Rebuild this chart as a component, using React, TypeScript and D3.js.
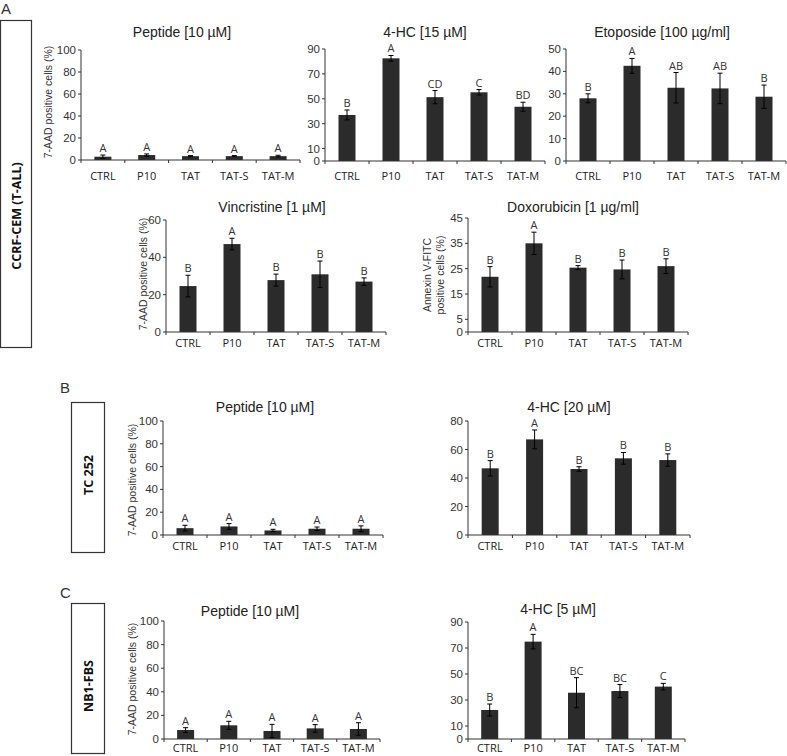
import React from "react";
import * as d3 from "d3";

const categories = ["CTRL", "P10", "TAT", "TAT-S", "TAT-M"];

// Panel A – CCRF-CEM (T-ALL)
const aPeptideMeans = [3, 4.5, 3.5, 3.5, 3.5];
const aPeptideErr = [1.5, 1, 0.5, 0.5, 0.8];
const aPeptideLetters = ["A", "A", "A", "A", "A"];
const aPeptideTicks = [0, 20, 40, 60, 80, 100];

const a4hcMeans = [37, 82.5, 51.3, 55.2, 43.6];
const a4hcErr = [4, 2.3, 5.3, 2.2, 3.6];
const a4hcLetters = ["B", "A", "CD", "C", "BD"];
const a4hcTicks = [0, 10, 30, 50, 70, 90];

const aEtoMeans = [28, 42.5, 32.7, 32.4, 28.7];
const aEtoErr = [2, 3.3, 6.8, 6.8, 5.2];
const aEtoLetters = ["B", "A", "AB", "AB", "B"];
const aEtoTicks = [0, 10, 20, 30, 40, 50];

const aVincMeans = [24.6, 47.1, 27.8, 30.9, 27];
const aVincErr = [5.8, 3.1, 3.2, 7.1, 2];
const aVincLetters = ["B", "A", "B", "B", "B"];
const aVincTicks = [0, 20, 40, 60];

const aDoxoMeans = [21.8, 35, 25.4, 24.7, 26];
const aDoxoErr = [4, 4.4, 0.8, 3.7, 2.9];
const aDoxoLetters = ["B", "A", "B", "B", "B"];
const aDoxoTicks = [0, 5, 15, 25, 35, 45];

// Panel B – TC 252
const bPeptideMeans = [6, 7.5, 4, 5.5, 5.5];
const bPeptideErr = [2.5, 2.5, 1, 1.5, 2.5];
const bPeptideLetters = ["A", "A", "A", "A", "A"];
const bPeptideTicks = [0, 20, 40, 60, 80, 100];

const b4hcMeans = [46.8, 67.1, 46.3, 53.8, 52.6];
const b4hcErr = [5.4, 6.6, 1.6, 4.1, 4.3];
const b4hcLetters = ["B", "A", "B", "B", "B"];
const b4hcTicks = [0, 20, 40, 60, 80];

// Panel C – NB1-FBS
const cPeptideMeans = [7.6, 11.6, 6.8, 9, 8.5];
const cPeptideErr = [2, 3.4, 5.6, 3.2, 5.3];
const cPeptideLetters = ["A", "A", "A", "A", "A"];
const cPeptideTicks = [0, 20, 40, 60, 80, 100];

const c4hcMeans = [22.3, 74.9, 35.6, 36.9, 40.3];
const c4hcErr = [4.6, 5.6, 11.6, 5, 2.5];
const c4hcLetters = ["B", "A", "BC", "BC", "C"];
const c4hcTicks = [0, 10, 30, 50, 70, 90];

const ARIAL = "'Liberation Sans', Arial, sans-serif";
const CAL = "'Open Sans', Lato, sans-serif";
const BAR = "#2b2b2b";

type PanelProps = {
  title: string;
  means: number[];
  errs: number[];
  letters: string[];
  ticks: number[];
  axisX: number;
  xEnd: number;
  yTop: number;
  yBottom: number;
  titleX: number;
  titleY: number;
  catY: number;
  yLabel?: string[];
  yLabelX?: number;
  yLabelY?: number;
};

function Panel(p: PanelProps) {
  const yMax = p.ticks[p.ticks.length - 1];
  const x = d3.scaleBand<string>().domain(categories).range([p.axisX, p.xEnd]);
  const y = d3.scaleLinear().domain([0, yMax]).range([p.yBottom, p.yTop]);
  const bw = 17;
  const bounds = categories.map((c) => x(c)!).concat([p.xEnd]);
  return (
    <g>
      <text x={p.titleX} y={p.titleY} textAnchor="middle" fontFamily={ARIAL} fontSize={14} fill="#222">
        {p.title}
      </text>
      {p.yLabel && (
        <text
          transform={`translate(${p.yLabelX},${p.yLabelY}) rotate(-90)`}
          textAnchor="middle"
          fontFamily={ARIAL}
          fontSize={10.5}
          fill="#333"
        >
          {p.yLabel.map((l, i) => (
            <tspan key={i} x={0} dy={i === 0 ? (p.yLabel!.length > 1 ? -2 : 3.5) : 12.5}>
              {l}
            </tspan>
          ))}
        </text>
      )}
      {categories.map((c, i) => {
        const cx = x(c)! + x.bandwidth() / 2;
        const top = y(p.means[i]);
        const eTop = y(p.means[i] + p.errs[i]);
        const eBot = y(Math.max(0, p.means[i] - p.errs[i]));
        return (
          <g key={c}>
            <rect x={cx - bw / 2} y={top} width={bw} height={p.yBottom - top} fill={BAR} />
            <line x1={cx} x2={cx} y1={eTop} y2={eBot} stroke="#000" strokeWidth={1} />
            <line x1={cx - 2.5} x2={cx + 2.5} y1={eTop} y2={eTop} stroke="#000" strokeWidth={1} />
            <line x1={cx - 2.5} x2={cx + 2.5} y1={eBot} y2={eBot} stroke="#000" strokeWidth={1} />
            <text x={cx} y={eTop - 3} textAnchor="middle" fontFamily={CAL} fontSize={11} fill="#333">
              {p.letters[i]}
            </text>
            <text x={cx} y={p.catY} textAnchor="middle" fontFamily={CAL} fontSize={11} fill="#222">
              {c}
            </text>
          </g>
        );
      })}
      <line x1={p.axisX} x2={p.axisX} y1={p.yTop} y2={p.yBottom} stroke="#333" strokeWidth={1} />
      <line x1={p.axisX} x2={p.xEnd} y1={p.yBottom} y2={p.yBottom} stroke="#333" strokeWidth={1} />
      {p.ticks.map((t) => (
        <g key={t}>
          <line x1={p.axisX - 3} x2={p.axisX} y1={y(t)} y2={y(t)} stroke="#333" />
          <text x={p.axisX - 5} y={y(t) + 4} textAnchor="end" fontFamily={ARIAL} fontSize={11.5} fill="#333">
            {t}
          </text>
        </g>
      ))}
      {bounds.map((b, i) => (
        <line key={i} x1={b} x2={b} y1={p.yBottom} y2={p.yBottom + 3} stroke="#333" />
      ))}
    </g>
  );
}

const YL = ["7-AAD positive cells (%)"];

export default function App() {
  return (
    <svg
      width={787}
      height={756}
      style={{ position: "absolute", left: 0, top: 0, background: "#fff" }}
    >
      <rect width={787} height={756} fill="#fff" />
      {/* Section letters */}
      <text x={1} y={14} fontFamily={ARIAL} fontSize={15} fill="#333">A</text>
      <text x={60} y={393} fontFamily={ARIAL} fontSize={15} fill="#333">B</text>
      <text x={60} y={598} fontFamily={ARIAL} fontSize={15} fill="#333">C</text>

      {/* Cell line boxes */}
      <rect x={0.5} y={20.5} width={31} height={327} fill="none" stroke="#333" strokeWidth={1.2} />
      <text transform="translate(20.5,216) rotate(-90)" textAnchor="middle" fontFamily={CAL} fontWeight="bold" fontSize={12.5} fill="#111">
        CCRF-CEM (T-ALL)
      </text>
      <rect x={71.5} y={402.5} width={33} height={150} fill="none" stroke="#333" strokeWidth={1.2} />
      <text transform="translate(92.5,475) rotate(-90)" textAnchor="middle" fontFamily={CAL} fontWeight="bold" fontSize={12.5} fill="#111">
        TC 252
      </text>
      <rect x={71.5} y={603.5} width={33} height={150} fill="none" stroke="#333" strokeWidth={1.2} />
      <text transform="translate(92.5,686) rotate(-90)" textAnchor="middle" fontFamily={CAL} fontWeight="bold" fontSize={12.5} fill="#111">
        NB1-FBS
      </text>

      <Panel title="Peptide [10 µM]" means={aPeptideMeans} errs={aPeptideErr} letters={aPeptideLetters} ticks={aPeptideTicks}
        axisX={81} xEnd={300} yTop={50} yBottom={160} titleX={182} titleY={37} catY={180}
        yLabel={YL} yLabelX={48} yLabelY={102} />
      <Panel title="4-HC [15 µM]" means={a4hcMeans} errs={a4hcErr} letters={a4hcLetters} ticks={a4hcTicks}
        axisX={325} xEnd={545} yTop={49} yBottom={161} titleX={425} titleY={37} catY={180} />
      <Panel title="Etoposide [100 µg/ml]" means={aEtoMeans} errs={aEtoErr} letters={aEtoLetters} ticks={aEtoTicks}
        axisX={566} xEnd={786} yTop={49} yBottom={161} titleX={662} titleY={37} catY={180} />
      <Panel title="Vincristine [1 µM]" means={aVincMeans} errs={aVincErr} letters={aVincLetters} ticks={aVincTicks}
        axisX={166} xEnd={386} yTop={220} yBottom={332} titleX={272} titleY={212} catY={347}
        yLabel={YL} yLabelX={143} yLabelY={274} />
      <Panel title="Doxorubicin [1 µg/ml]" means={aDoxoMeans} errs={aDoxoErr} letters={aDoxoLetters} ticks={aDoxoTicks}
        axisX={468} xEnd={688} yTop={218} yBottom={332} titleX={573} titleY={212} catY={347}
        yLabel={["Annexin V-FITC", "positive cells (%)"]} yLabelX={433} yLabelY={275} />
      <Panel title="Peptide [10 µM]" means={bPeptideMeans} errs={bPeptideErr} letters={bPeptideLetters} ticks={bPeptideTicks}
        axisX={163} xEnd={383} yTop={421} yBottom={535} titleX={265} titleY={412} catY={550}
        yLabel={YL} yLabelX={132} yLabelY={480} />
      <Panel title="4-HC [20 µM]" means={b4hcMeans} errs={b4hcErr} letters={b4hcLetters} ticks={b4hcTicks}
        axisX={468} xEnd={690} yTop={421} yBottom={535} titleX={569} titleY={412} catY={550} />
      <Panel title="Peptide [10 µM]" means={cPeptideMeans} errs={cPeptideErr} letters={cPeptideLetters} ticks={cPeptideTicks}
        axisX={164} xEnd={380} yTop={621} yBottom={739} titleX={250} titleY={616} catY={752}
        yLabel={YL} yLabelX={132} yLabelY={679} />
      <Panel title="4-HC [5 µM]" means={c4hcMeans} errs={c4hcErr} letters={c4hcLetters} ticks={c4hcTicks}
        axisX={468} xEnd={685} yTop={622} yBottom={739} titleX={558} titleY={614} catY={752} />
    </svg>
  );
}
